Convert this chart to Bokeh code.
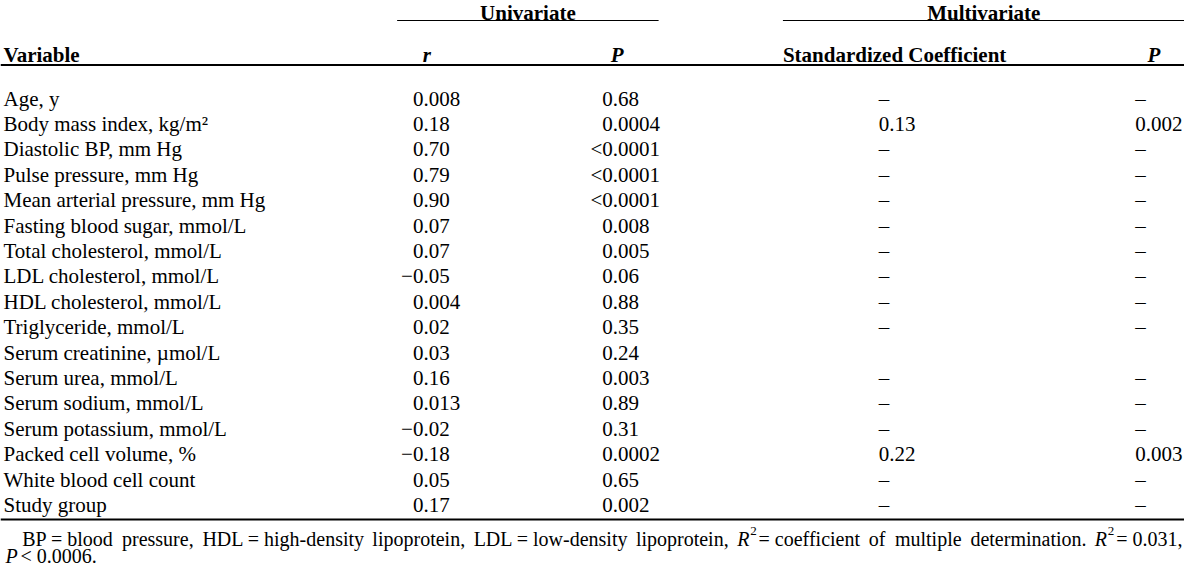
from bokeh.plotting import figure
from bokeh.models import Range1d, ColumnDataSource
from bokeh.embed import file_html
from bokeh.resources import INLINE
from bokeh.core.properties import value

# ---------------- data ----------------
variables = [
    "Age, y",
    "Body mass index, kg/m\u00b2",
    "Diastolic BP, mm Hg",
    "Pulse pressure, mm Hg",
    "Mean arterial pressure, mm Hg",
    "Fasting blood sugar, mmol/L",
    "Total cholesterol, mmol/L",
    "LDL cholesterol, mmol/L",
    "HDL cholesterol, mmol/L",
    "Triglyceride, mmol/L",
    "Serum creatinine, \u00b5mol/L",
    "Serum urea, mmol/L",
    "Serum sodium, mmol/L",
    "Serum potassium, mmol/L",
    "Packed cell volume, %",
    "White blood cell count",
    "Study group",
]
r_values = ["0.008", "0.18", "0.70", "0.79", "0.90", "0.07", "0.07", "\u22120.05",
            "0.004", "0.02", "0.03", "0.16", "0.013", "\u22120.02", "\u22120.18",
            "0.05", "0.17"]
p_univariate = ["0.68", "0.0004", "<0.0001", "<0.0001", "<0.0001", "0.008", "0.005",
                "0.06", "0.88", "0.35", "0.24", "0.003", "0.89", "0.31", "0.0002",
                "0.65", "0.002"]
std_coefficient = ["\u2013", "0.13", "\u2013", "\u2013", "\u2013", "\u2013", "\u2013",
                   "\u2013", "\u2013", "\u2013", "", "\u2013", "\u2013", "\u2013",
                   "0.22", "\u2013", "\u2013"]
p_multivariate = ["\u2013", "0.002", "\u2013", "\u2013", "\u2013", "\u2013", "\u2013",
                  "\u2013", "\u2013", "\u2013", "", "\u2013", "\u2013", "\u2013",
                  "0.003", "\u2013", "\u2013"]

group_headers = ["Univariate", "Multivariate"]
column_headers = ["Variable", "r", "P", "Standardized Coefficient", "P"]

# footnote, line 1: tokens made of (text, style) pieces; "sup" = superscript
footnote_line1 = [
    [("BP = blood", "normal")],
    [("pressure,", "normal")],
    [("HDL = high-density", "normal")],
    [("lipoprotein,", "normal")],
    [("LDL = low-density", "normal")],
    [("lipoprotein,", "normal")],
    [("R", "italic"), ("2", "sup"), ("= coefficient", "normal")],
    [("of", "normal")],
    [("multiple", "normal")],
    [("determination.", "normal")],
    [("R", "italic"), ("2", "sup"), ("= 0.031,", "normal")],
]
footnote_line2 = [("P", "italic"), ("< 0.0006.", "normal")]

# ---------------- layout ----------------
FONT = "Liberation Serif"
FS = 21
FS_NOTE = 20
FS_SUP = 13
ROW0 = 106
ROW_H = 25.4
PREFIX_W = 0.564 * FS

# Times-compatible advance widths (per 1000 em) used to justify the footnote
W_REG = {" ": 250, ",": 250, "-": 333, ".": 250, "<": 564, "=": 564,
         "B": 667, "P": 556, "H": 722, "D": 722, "L": 611, "R": 667,
         "a": 444, "b": 500, "c": 444, "d": 500, "e": 444, "f": 333, "g": 500,
         "h": 500, "i": 278, "l": 278, "m": 778, "n": 500, "o": 500, "p": 500,
         "r": 333, "s": 389, "t": 278, "u": 500, "v": 500, "w": 722, "y": 500}
W_ITA = {"R": 611, "P": 611}
PIECE_GAP = {"normal": 0, "italic": 0, "sup": 3}


def piece_width(text, style):
    if style == "sup":
        return sum(500 for _ in text) / 1000 * FS_SUP
    table = W_ITA if style == "italic" else W_REG
    return sum(table.get(ch, W_REG.get(ch, 500)) for ch in text) / 1000 * FS_NOTE


# plot: x maps the 1200-wide table onto 1184 px, y is 1:1 with the page
p = figure(width=1184, height=565, x_range=Range1d(0, 1200), y_range=Range1d(573, 8),
           output_backend="svg", toolbar_location=None, min_border=0,
           x_axis_type=None, y_axis_type=None)
p.grid.visible = False
p.outline_line_color = None
p.background_fill_color = "white"
p.border_fill_color = "white"


def txt(xs, ys, texts, style="normal", size=FS, align="left", xoff=None):
    data = dict(x=xs, y=ys, text=texts, xo=xoff if xoff is not None else [0] * len(xs))
    src = ColumnDataSource(data)
    p.text(x="x", y="y", text="text", x_offset="xo", source=src,
           text_font=value(FONT), text_font_size=f"{size}px", text_font_style=style,
           text_align=align, text_baseline="alphabetic", text_color="black")


n = len(variables)
ys = [ROW0 + ROW_H * i for i in range(n)]


def prefix_off(vals):
    return [-PREFIX_W if (v.startswith("\u2212") or v.startswith("<")) else 0 for v in vals]


# body
txt([3] * n, ys, variables)
txt([418] * n, ys, r_values, xoff=prefix_off(r_values))
txt([610] * n, ys, p_univariate, xoff=prefix_off(p_univariate))
txt([890] * n, ys, std_coefficient)
txt([1150] * n, ys, p_multivariate)

# headers
txt([534.5, 996.5], [20.5, 20.5], group_headers, style="bold", align="center")
txt([3], [62], [column_headers[0]], style="bold")
txt([432, 625, 1169], [62, 62, 62],
    [column_headers[1], column_headers[2], column_headers[4]],
    style="bold italic", align="center")
txt([793], [62], [column_headers[3]], style="bold")

# rules
p.segment(x0=[402, 793], y0=[28, 28], x1=[667, 1200], y1=[28, 28],
          line_color="black", line_width=1)
p.segment(x0=[0, 0], y0=[72.5, 527], x1=[1200, 1200], y1=[72.5, 527],
          line_color="black", line_width=1.8)

# footnote (justified line 1)
LINE1_START, LINE1_END, LINE1_Y = 22, 1197, 546
LINE2_START, LINE2_Y = 5, 563
pieces = {"normal": ([], [], []), "italic": ([], [], []), "sup": ([], [], [])}


def token_width(tok):
    w = 0
    for i, (t, s) in enumerate(tok):
        w += piece_width(t, s) + (PIECE_GAP[s] if i < len(tok) - 1 else 0)
    return w


def place(tok, x0, y0):
    cx = x0
    for t, s in tok:
        xs_, ys_, ts_ = pieces[s]
        xs_.append(cx + (1 if s == "sup" else 0))
        ys_.append(y0 - 8 if s == "sup" else y0)
        ts_.append(t)
        cx += piece_width(t, s) + PIECE_GAP[s]


token_w = [token_width(tok) for tok in footnote_line1]
gap = (LINE1_END - LINE1_START - sum(token_w)) / (len(footnote_line1) - 1)
x = LINE1_START
for tok, tw in zip(footnote_line1, token_w):
    place(tok, x, LINE1_Y)
    x += tw + gap
place([footnote_line2[0]], LINE2_START, LINE2_Y)
place([footnote_line2[1]], LINE2_START + piece_width(*footnote_line2[0]) + 3, LINE2_Y)

txt(*pieces["normal"], size=FS_NOTE)
txt(*pieces["italic"], style="italic", size=FS_NOTE)
txt(*pieces["sup"], size=FS_SUP)

open("out.html", "w").write(file_html(p, INLINE))
